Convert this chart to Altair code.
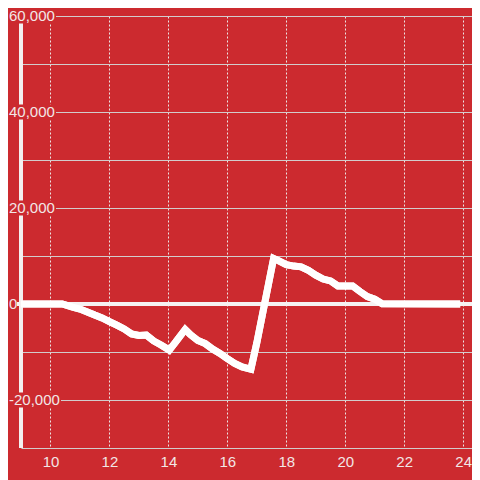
import altair as alt
import pandas as pd

# ---- data ----
hours = [9.0, 10.4, 10.75, 11.0, 11.25, 11.5, 11.75, 12.0, 12.25, 12.5, 12.75, 13.0,
         13.25, 13.5, 13.75, 14.03, 14.25, 14.57, 14.75, 15.0, 15.25, 15.5, 15.75,
         16.0, 16.25, 16.5, 16.8, 17.0, 17.57, 17.75, 18.0, 18.25, 18.5, 18.75, 19.0,
         19.25, 19.5, 19.75, 20.0, 20.25, 20.5, 20.75, 21.0, 21.25, 23.9]
values = [0, 0, -650, -1050, -1650, -2300, -2900, -3650, -4400, -5200, -6250, -6550,
          -6450, -7700, -8550, -9600, -7900, -5300, -6400, -7600, -8250, -9400, -10300,
          -11400, -12400, -13100, -13600, -8100, 9500, 9000, 8200, 7900, 7750, 7000, 6000,
          5200, 4800, 3750, 3750, 3750, 2600, 1550, 1000, 50, 0]

x_ticks = list(range(10, 25))
y_grid = list(range(-30000, 60001, 10000))
y_label_values = [60000, 40000, 20000, 0, -20000]
y_label_texts = ["60,000", "40,000", "20,000", "0", "-20,000"]

RED = "#cc2a2f"
TEXT = "#f2e6e6"
GRID = "#d2cccc"
FONT = "Liberation Sans"

W, H = 451, 432

line_df = pd.DataFrame({"hour": hours, "value": values})
lab_df = pd.DataFrame({"value": y_label_values, "label": y_label_texts})

xscale = alt.Scale(domain=[9, 24.3], nice=False, zero=False)
yscale = alt.Scale(domain=[-30000, 60000], nice=False, zero=False)

base = alt.Chart(line_df)

line = base.mark_line(color="white", strokeWidth=7, strokeCap="butt").encode(
    x=alt.X("hour:Q", scale=xscale,
            axis=alt.Axis(values=x_ticks, format="d", grid=True, gridDash=[2, 2],
                          gridColor="#ece4e4", gridWidth=1, domain=False, ticks=False,
                          labelFontSize=15, labelColor=TEXT, labelFont=FONT,
                          labelPadding=6, labelFlush=False, labelOverlap=False,
                          title=None)),
    y=alt.Y("value:Q", scale=yscale,
            axis=alt.Axis(values=y_grid, grid=True, gridColor=GRID, gridWidth=1,
                          labels=False, ticks=False, domain=False, title=None)),
)

axis_line = alt.Chart(line_df).mark_rule(color="#f4f0f0", strokeWidth=3).encode(
    x=alt.datum(9, scale=xscale), y=alt.datum(60000, scale=yscale), y2=alt.datum(-30000)
)

zero_line = alt.Chart(line_df).mark_rule(color="#f6f2f2", strokeWidth=4).encode(
    y=alt.datum(0, scale=yscale), x=alt.value(-4), x2=alt.value(W)
)

bg_pos = alt.Chart(lab_df).transform_filter("datum.value > 0").mark_rule(
    color=RED, strokeWidth=15, strokeCap="butt").encode(
    y=alt.Y("value:Q", scale=yscale), x=alt.value(-13), x2=alt.value(35))
bg_neg = alt.Chart(lab_df).transform_filter("datum.value < 0").mark_rule(
    color=RED, strokeWidth=15, strokeCap="butt").encode(
    y=alt.Y("value:Q", scale=yscale), x=alt.value(-13), x2=alt.value(40))
bg_zero = alt.Chart(lab_df).transform_filter("datum.value == 0").mark_rule(
    color=RED, strokeWidth=15, strokeCap="butt").encode(
    y=alt.Y("value:Q", scale=yscale), x=alt.value(-13), x2=alt.value(-4))

labels = alt.Chart(lab_df).mark_text(
    align="left", baseline="middle", fontSize=15, font=FONT, color=TEXT).encode(
    y=alt.Y("value:Q", scale=yscale), x=alt.value(-12), text="label:N")

chart = alt.layer(line, axis_line, zero_line, bg_pos, bg_neg, bg_zero, labels, line).properties(
    width=W, height=H,
    autosize=alt.AutoSizeParams(type="none"),
    padding={"left": 13, "top": 8, "right": 0, "bottom": 32},
    background=RED,
).configure_view(stroke=None)

chart.save("out.html", embed_options={"renderer": "svg", "actions": False})
